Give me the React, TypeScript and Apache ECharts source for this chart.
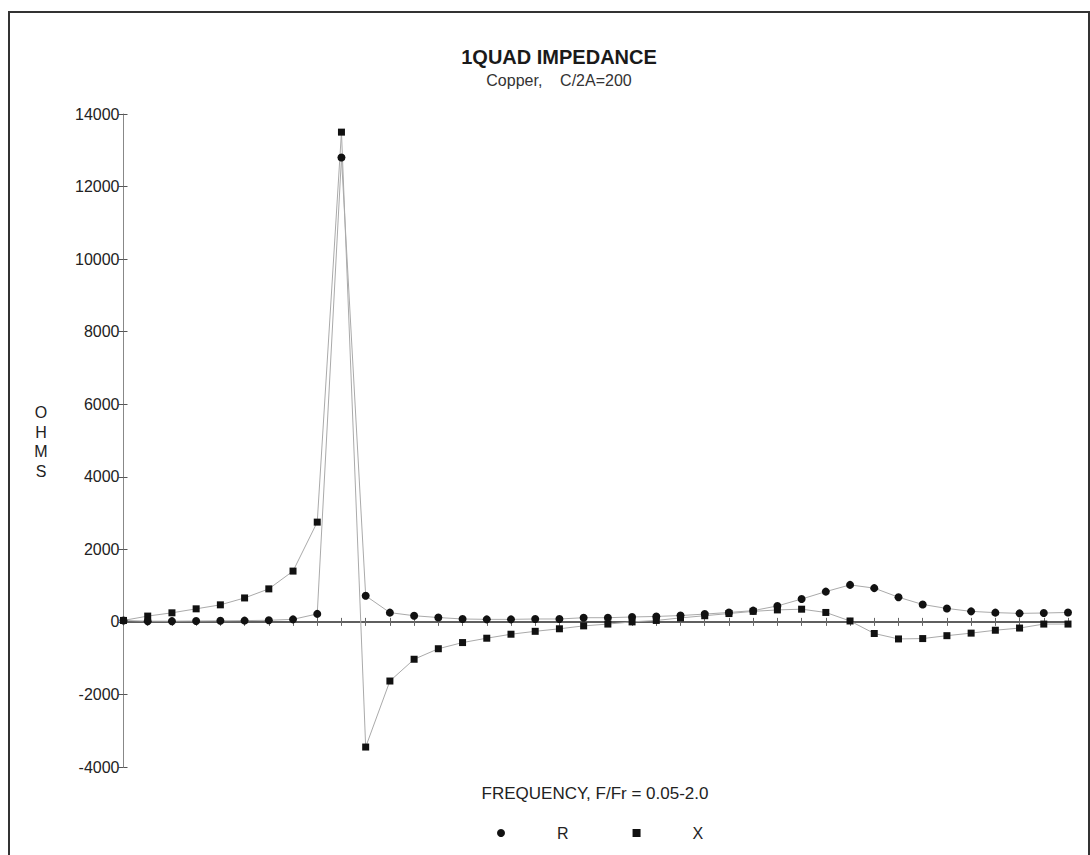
import React, { useEffect, useRef } from "react";
import * as echarts from "echarts";

const frequencies: string[] = [
  "0.05","0.10","0.15","0.20","0.25","0.30","0.35","0.40","0.45","0.50",
  "0.55","0.60","0.65","0.70","0.75","0.80","0.85","0.90","0.95","1.00",
  "1.05","1.10","1.15","1.20","1.25","1.30","1.35","1.40","1.45","1.50",
  "1.55","1.60","1.65","1.70","1.75","1.80","1.85","1.90","1.95","2.00",
];

const resistanceR: number[] = [
  40, 20, 20, 25, 30, 35, 45, 70, 220, 12800,
  720, 255, 170, 120, 80, 70, 70, 80, 80, 115,
  115, 135, 150, 175, 215, 260, 310, 440, 630, 835,
  1020, 930, 680, 480, 370, 290, 255, 235, 245, 260,
];

const reactanceX: number[] = [
  40, 160, 250, 360, 470, 660, 910, 1400, 2750, 13500,
  -3450, -1630, -1030, -740, -570, -450, -340, -260, -190, -110,
  -60, 0, 40, 110, 170, 230, 290, 330, 350, 260,
  25, -320, -470, -460, -380, -310, -230, -170, -60, -60,
];

const yTicks = { min: -4000, max: 14000, interval: 2000 };

const titleText = "1QUAD IMPEDANCE";
const subtitleText = "Copper,    C/2A=200";
const yName = "OHMS";
const xName = "FREQUENCY, F/Fr = 0.05-2.0";

const FONT = "'Liberation Sans', Arial, sans-serif";

export default function App() {
  const ref = useRef<HTMLDivElement>(null);

  useEffect(() => {
    if (!ref.current) return;
    const chart = echarts.init(ref.current, null, { renderer: "svg" });
    const baseAxisX = {
      type: "category" as const,
      data: frequencies,
      boundaryGap: false,
      position: "bottom" as const,
      axisLabel: { show: false },
      splitLine: { show: false },
    };
    const baseAxisY = {
      type: "value" as const,
      min: yTicks.min,
      max: yTicks.max,
      interval: yTicks.interval,
      position: "left" as const,
      splitLine: { show: false },
    };
    chart.setOption({
      animation: false,
      backgroundColor: "#ffffff",
      textStyle: { fontFamily: FONT },
      title: {
        text: titleText,
        subtext: subtitleText,
        left: 554,
        top: 42,
        textAlign: "center",
        itemGap: 5,
        textStyle: { fontFamily: FONT, fontSize: 20, fontWeight: "bold", color: "#1a1a1a" },
        subtextStyle: { fontFamily: FONT, fontSize: 16, color: "#333" },
      },
      legend: {
        left: 492,
        top: 820,
        itemWidth: 8,
        itemHeight: 8,
        itemGap: 64,
        selectedMode: false,
        data: [
          { name: "R", icon: "circle" },
          { name: "X", icon: "rect" },
        ],
        textStyle: { fontFamily: FONT, fontSize: 16, color: "#222", padding: [0, 0, 0, 47] },
      },
      grid: { left: 123.5, right: 22, top: 114, bottom: 88 },
      xAxis: [
        {
          ...baseAxisX,
          axisLine: { onZero: true, lineStyle: { color: "#555", width: 1.5 } },
          axisTick: { show: true, interval: 0, length: 4, inside: false, lineStyle: { color: "#666" } },
        },
        {
          ...baseAxisX,
          axisLine: { onZero: true, lineStyle: { color: "#555", width: 1.5 } },
          axisTick: { show: true, interval: 0, length: 4, inside: true, lineStyle: { color: "#666" } },
        },
      ],
      yAxis: [
        {
          ...baseAxisY,
          axisLine: { show: true, lineStyle: { color: "#888", width: 1 } },
          axisTick: { show: true, length: 5, inside: false, lineStyle: { color: "#555" } },
          axisLabel: {
            fontFamily: FONT,
            fontSize: 16,
            color: "#222",
            margin: 4,
            formatter: (v: number) => String(v),
          },
        },
        {
          ...baseAxisY,
          axisLine: { show: false },
          axisTick: { show: true, length: 4, inside: true, lineStyle: { color: "#555" } },
          axisLabel: { show: false },
        },
      ],
      series: [
        {
          name: "X",
          type: "line",
          data: reactanceX,
          symbol: "rect",
          symbolSize: 7,
          showAllSymbol: true,
          itemStyle: { color: "#111" },
          lineStyle: { color: "#aaa", width: 1 },
          z: 3,
        },
        {
          name: "R",
          type: "line",
          data: resistanceR,
          symbol: "circle",
          symbolSize: 8,
          showAllSymbol: true,
          itemStyle: { color: "#111" },
          lineStyle: { color: "#aaa", width: 1 },
          z: 4,
        },
      ],
      graphic: [
        {
          type: "rect",
          shape: { x: 9, y: 12, width: 1080, height: 860 },
          style: { fill: "none", stroke: "#333", lineWidth: 2 },
          silent: true,
        },
        {
          type: "text",
          x: 41,
          y: 403,
          style: {
            text: yName.split("").join("\n"),
            font: `16px ${FONT}`,
            fill: "#222",
            align: "center",
            lineHeight: 19.5,
          },
        },
        {
          type: "text",
          x: 595,
          y: 785,
          style: {
            text: xName,
            font: `17px ${FONT}`,
            fill: "#222",
            align: "center",
          },
        },
      ],
    });
    return () => chart.dispose();
  }, []);

  return (
    <div
      ref={ref}
      style={{ position: "absolute", left: 0, top: 0, width: 1090, height: 855 }}
    />
  );
}
